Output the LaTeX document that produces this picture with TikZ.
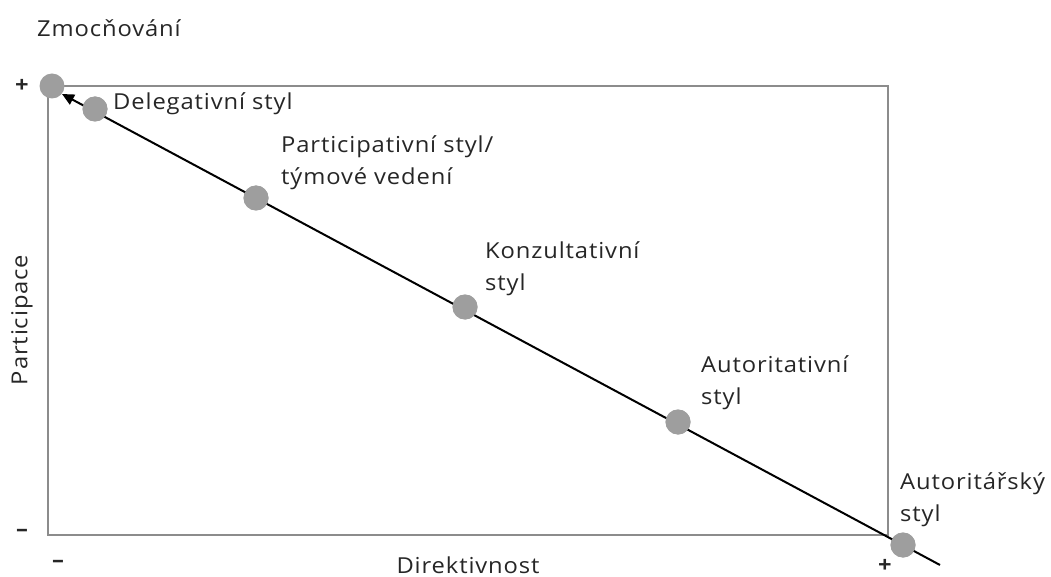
\documentclass[tikz,border=0pt]{standalone}
\usepackage{fontspec}
\setmainfont{Open Sans}[FakeStretch=1.08,LetterSpace=4]
\usetikzlibrary{arrows.meta}
\begin{document}
\begin{tikzpicture}[x=1pt,y=-1pt,
  dot/.style={circle,fill=black!38,inner sep=0pt,minimum size=25pt},
  lbl/.style={anchor=west,align=left,font=\fontsize{22}{32}\selectfont,text=black!85,inner sep=0pt},
  ax/.style={font=\fontsize{22}{26}\selectfont,text=black!85,inner sep=0pt},
  sgn/.style={font=\fontsize{22}{26}\bfseries,text=black!85,inner sep=0pt}]
\useasboundingbox (0,0) rectangle (1051,577);
\draw[black!45,line width=2pt] (48,86) rectangle (888,535);
\coordinate (tip) at (62,94);
\coordinate (end) at (940,565);
\node[dot] (d0) at (52,86) {};
\node[dot] (d1) at (95,109) {};
\node[dot] (d2) at (256,198) {};
\node[dot] (d3) at (465,307) {};
\node[dot] (d4) at (678,422) {};
\node[dot] (d5) at (903,545) {};
\draw[line width=2pt,-{Triangle[length=12pt,width=11pt]}] (end) -- (tip);
\foreach \n in {d1,d2,d3,d4,d5} \node[dot] at (\n) {};
\node[ax,anchor=west] (zm) at (37,28) {Zmocňování};
\node[sgn] (pl) at (22,86) {+};
\node[sgn] (mn) at (22,533) {–};
\node[ax,rotate=90] (pa) at (22,320) {Participace};
\node[sgn] (mn2) at (58,564) {–};
\node[ax] (dir) at (468,565) {Direktivnost};
\node[sgn] (pl2) at (885,566) {+};
\node[lbl] (l1) at (113,104) {Delegativní styl};
\node[lbl] (l2) at (281,163) {Participativní styl/\\týmové vedení};
\node[lbl] (l3) at (485,269) {Konzultativní\\styl};
\node[lbl] (l4) at (701,383) {Autoritativní\\styl};
\node[lbl] (l5) at (900,500) {Autoritářský\\styl};
\end{tikzpicture}
\end{document}
